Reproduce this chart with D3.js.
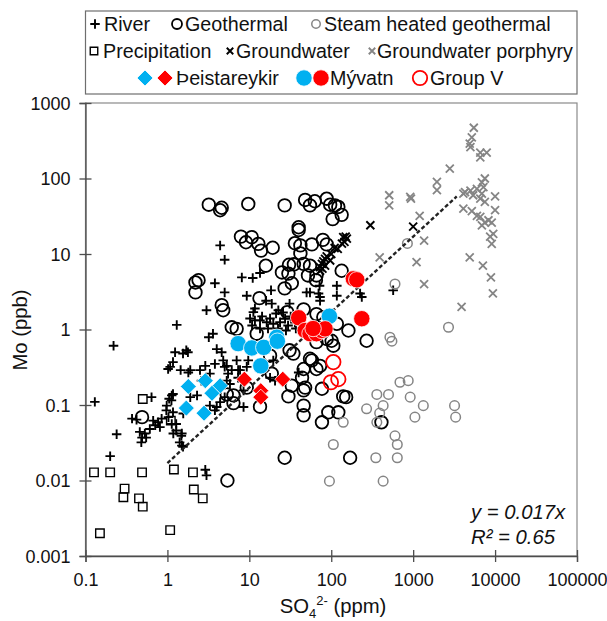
<!DOCTYPE html>
<html>
<head>
<meta charset="utf-8">
<script src="https://cdn.jsdelivr.net/npm/d3@7/dist/d3.min.js"></script>
<style>
  html, body { margin: 0; padding: 0; background: #fff; }
  svg { display: block; font-family: "Liberation Sans", Arial, sans-serif; }
</style>
</head>
<body>
<svg id="chart" width="607" height="621"></svg>
<script>
// Mo (ppb) against SO4 (ppm) for Icelandic waters, log–log.
// Each point is [SO4 ppm, Mo ppb].
const river = [
  [4.4,13],[5.0,8.4],[8.1,4.9],[11,4.8],[13.5,5.6],[3.8,4.1],[117,3.8],[18.4,3.3],[5.0,3.1],[9.3,2.8],
  [16,2.4],[11.2,1.7],[3.0,1.8],[18.8,2.2],[22.6,1.8],[31,2.2],[72,3.8],[73,2.7],[55,3.1],[117,2.8],
  [1.3,1.15],[0.22,0.61],[0.13,0.11],[4.0,0.55],[4.6,0.50],[1.7,0.53],[1.24,0.50],[1.08,0.32],[1.45,0.29],[1.9,0.29],
  [2.9,0.33],[3.8,0.35],[5.3,0.33],[7.0,0.39],[5.5,0.26],[7.3,0.29],[8.5,0.156],[5.8,0.19],[5.0,0.127],[4.4,0.109],
  [4.0,0.094],[2.3,0.134],[1.9,0.127],[1.13,0.134],[1.05,0.121],[0.64,0.127],[0.98,0.098],[0.85,0.066],[0.77,0.059],[0.71,0.054],
  [0.61,0.048],[0.53,0.042],[0.49,0.037],[0.42,0.064],[0.37,0.066],[0.46,0.044],[0.81,0.051],[1.03,0.069],[1.13,0.056],[1.18,0.042],
  [1.5,0.042],[1.5,0.029],[1.56,0.077],[3.3,0.098],[3.8,0.085],[0.24,0.041],[0.20,0.021],[2.9,0.0139],[3.0,0.0117],[40,0.27],
  [17.9,0.23],[20.6,0.21],[8.5,0.094],[3.6,0.88],[3.2,0.79],[11.7,1.32],[4.8,0.39],[5.0,0.32],[6.1,0.29],[7.7,0.29],
  [1.8,0.27],[2.5,0.29],[3.3,0.26],[2.6,0.21],[7.3,0.23],[5.3,0.21],[9.7,0.39],[9.3,0.32],[1.17,0.14],[0.67,0.062],
  [0.55,0.037],[0.48,0.032],[0.97,0.085],[1.17,0.080],[1.28,0.056],[1.28,0.046],[1.48,0.039],[1.41,0.032],[1.55,0.028],[11.7,1.9],
  [13.5,1.32],[16.3,1.25],[19.6,1.19],[23.7,1.25],[27.3,1.39],[50,3.1],[70,3.0],[73,2.4],[225,3.0],[570,3.3],
  [236,2.7],[19.6,0.39],[10.2,1.4],[14.3,1.49],[17.9,1.4],[21.2,1.63],[29.7,1.13],[32,1.49],[36,1.24],[13.5,1.03],
  [16.9,1.03],[22.4,1.03],[28,0.97],[37,1.03],[10.8,1.13],[25.8,1.68],[1.02,0.30],[1.17,0.37],[1.55,0.48],[1.78,0.50],
  [1.12,0.115]
];
const geothermal = [
  [3.2,45],[4.4,38],[4.6,41],[9.7,46],[27,44],[48,52],[55,44],[63,50],[88,54],[97,45],
  [111,44],[122,42],[134,33],[104,29],[40,22.6],[40,20.8],[7.9,17],[10.7,16.7],[9.1,14.3],[12.9,13.6],
  [13.9,11.1],[19.3,12.1],[36,13.9],[42,13],[58,13.4],[79,15.4],[88,13.4],[42,10.2],[15.9,7.0],[25,5.7],
  [30.5,7.2],[35,7.3],[46,7.4],[55,7.0],[52,5.2],[65,4.5],[33,4.1],[134,6.0],[2.2,4.2],[2.4,4.5],
  [2.2,3.1],[4.8,1.8],[4.6,2.1],[13.3,2.6],[27,3.5],[66,5.2],[30,5.5],[6.1,1.07],[7.0,1.02],[12.3,0.88],
  [17.9,0.45],[31,0.53],[34.5,0.48],[55,0.41],[73,0.33],[46,0.30],[18.8,0.26],[30,0.13],[46,0.156],[46,0.098],
  [46,0.073],[77,0.164],[77,0.059],[92,0.080],[122,0.080],[152,0.127],[33,0.18],[13.5,0.095],[6.4,0.106],[6.4,0.134],
  [5.3,0.138],[9.3,0.17],[0.49,0.069],[27,0.020],[5.4,0.010],[170,0.020],[162,0.97],[270,0.71],[117,1.19],[101,0.71],
  [66,0.68],[88,0.75],[106,0.61],[58,0.39],[66,0.30],[44,0.23],[48,0.17],[140,0.13],[80,1.46],[66,1.6],
  [29,1.7],[410,0.059],[46,1.85]
];
const steamHeated = [
  [600,4.0],[2700,1.07],[520,0.79],[550,0.70],[690,0.2],[870,0.21],[360,0.138],[500,0.138],[920,0.127],[1330,0.098],
  [430,0.098],[270,0.089],[390,0.078],[3200,0.098],[3300,0.069],[1050,0.069],[360,0.059],[140,0.059],[600,0.039],[640,0.030],
  [106,0.030],[350,0.020],[640,0.020],[95,0.0098],[430,0.0098],[850,13.8]
];
const precipitation = [
  [0.127,0.0128],[0.20,0.0128],[0.49,0.0128],[1.2,0.014],[2.05,0.0128],[0.30,0.0078],[0.29,0.006],[0.45,0.0058],
  [0.50,0.0045],[2.1,0.0076],[2.7,0.0058],[0.15,0.002],[1.08,0.0022],[0.50,0.12],[1.1,0.062]
];
const groundwater = [
  [300,24],[1000,23],[73,6.7],[77,7.4],[80,8],[84,8.6],[88,9.3],[100,10],[110,12],[120,11.7],
  [135,13.7],[145,14.5],[155,16],[150,17],[73,6.0],[78,6.4],[97,8.2],[84,7.0],[140,16.7]
];
const porphyry = [
  [5500,470],[5200,350],[4900,290],[5000,260],[6600,220],[7900,220],[6600,190],[2800,135],[1950,90],[1950,70],
  [510,60],[510,44],[920,57],[940,54],[7500,100],[6900,89],[7200,77],[6000,73],[5000,69],[4300,66],
  [4100,63],[5400,60],[6900,63],[10000,58],[6600,54],[7500,49],[4100,40],[5200,37],[6000,32],[6600,31],
  [10000,38],[7500,26],[8300,28],[9100,26],[6900,24],[9500,18.5],[8700,17],[9100,13.6],[1200,32],[1360,15],
  [390,9],[1100,7.8],[4900,9],[7100,7],[8900,4.9],[1360,4.0],[9400,3.0],[3900,2.0]
];
const theistareykirBlue = [[1.8,0.176],[2.9,0.21],[4.4,0.18],[3.5,0.143],[1.7,0.091],[2.8,0.078]];
const theistareykirRed = [[8.7,0.22],[25.6,0.22],[13.8,0.155],[13.8,0.127]];
const myvatnBlue = [[7.3,0.65],[10.7,0.57],[15,0.58],[21.6,0.79],[22,0.70],[13.8,0.33],[95,1.5]];
const myvatnRed = [[40,1.43],[48,0.97],[55,0.88],[66,0.88],[77,0.97],[84,1.02],[60,1.03],[236,1.39],[186,4.7],[205,4.55]];
const groupV = [[106,0.37],[99,0.2],[122,0.22]];

// Trend line y = 0.017x over the fitted range
const slope = 0.017;
const fitRange = [1, 3400];
const r2 = 0.65;

const xTicks = [0.1, 1, 10, 100, 1000, 10000, 100000];
const yTicks = [0.001, 0.01, 0.1, 1, 10, 100, 1000];

const svg = d3.select("#chart");
const W = 607, H = 621;
const plot = { left: 85.5, right: 577, top: 103, bottom: 556 };
const FONT_LEGEND = 19.7, FONT_TICK = 18, FONT_TITLE = 20.3;

const x = d3.scaleLog().domain([0.1, 100000]).range([plot.left, plot.right]);
const y = d3.scaleLog().domain([0.001, 1000]).range([plot.bottom, plot.top]);

svg.append("rect").attr("width", W).attr("height", H).attr("fill", "#fff");

// marker shapes
const plusType = { draw(ctx, size) { const r = Math.sqrt(size) / 2;
  ctx.moveTo(-r, 0); ctx.lineTo(r, 0); ctx.moveTo(0, -r); ctx.lineTo(0, r); } };
const timesType = { draw(ctx, size) { const r = Math.sqrt(size) / 2;
  ctx.moveTo(-r, -r); ctx.lineTo(r, r); ctx.moveTo(r, -r); ctx.lineTo(-r, r); } };
const diamondType = { draw(ctx, size) { const r = Math.sqrt(size) / 2;
  ctx.moveTo(0, -r); ctx.lineTo(r, 0); ctx.lineTo(0, r); ctx.lineTo(-r, 0); ctx.closePath(); } };
const squareType = { draw(ctx, size) { const r = Math.sqrt(size) / 2;
  ctx.rect(-r, -r, 2 * r, 2 * r); } };
const circleType = d3.symbolCircle;

const BLUE = "#00b0f0", RED = "#ff0000", GREY = "#858585";

const styles = {
  river:   { type: plusType,    size: 90,  fill: "none", stroke: "#000", sw: 1.9 },
  geo:     { type: circleType,  size: Math.PI * 6.3 * 6.3, fill: "none", stroke: "#000", sw: 1.8 },
  steam:   { type: circleType,  size: Math.PI * 4.8 * 4.8, fill: "none", stroke: GREY, sw: 1.5 },
  precip:  { type: squareType,  size: 72,  fill: "none", stroke: "#000", sw: 1.4 },
  ground:  { type: timesType,   size: 64,  fill: "none", stroke: "#000", sw: 1.9 },
  porph:   { type: timesType,   size: 64,  fill: "none", stroke: GREY, sw: 1.8 },
  thB:     { type: diamondType, size: 256, fill: BLUE, stroke: "#fff", sw: 0.8 },
  thR:     { type: diamondType, size: 256, fill: RED,  stroke: "#fff", sw: 0.8 },
  myB:     { type: circleType,  size: Math.PI * 8.2 * 8.2, fill: BLUE, stroke: "#fff", sw: 0.8 },
  myR:     { type: circleType,  size: Math.PI * 8.2 * 8.2, fill: RED,  stroke: "#fff", sw: 0.8 },
  grpV:    { type: circleType,  size: Math.PI * 7.2 * 7.2, fill: "none", stroke: RED, sw: 1.8 }
};

// plot frame
svg.append("rect")
  .attr("x", plot.left).attr("y", plot.top)
  .attr("width", plot.right - plot.left).attr("height", plot.bottom - plot.top)
  .attr("fill", "none").attr("stroke", "#8a8a8a").attr("stroke-width", 1.2);

// axes with ticks crossing the axis line
const xAxis = svg.append("g").attr("transform", `translate(0,${plot.bottom})`)
  .call(d3.axisBottom(x).tickValues(xTicks).tickFormat(d3.format("~f")).tickSize(6).tickPadding(9));
xAxis.selectAll(".tick line").attr("y1", -6).attr("y2", 6);
const yAxis = svg.append("g").attr("transform", `translate(${plot.left},0)`)
  .call(d3.axisLeft(y).tickValues(yTicks).tickFormat(d3.format("~f")).tickSize(6).tickPadding(9));
yAxis.selectAll(".tick line").attr("x1", -6).attr("x2", 6);
[xAxis, yAxis].forEach(g => {
  g.select(".domain").attr("stroke", "#4d4d4d").attr("stroke-width", 1.3);
  g.selectAll(".tick line").attr("stroke", "#4d4d4d").attr("stroke-width", 1.3);
  g.selectAll(".tick text").attr("font-size", FONT_TICK).attr("fill", "#111")
    .attr("font-family", "'Liberation Sans', Arial, sans-serif");
});
xAxis.selectAll(".tick text").attr("dy", "0.82em");
yAxis.selectAll(".tick text").attr("dy", "0.35em");

// scatter series
function drawSeries(data, st) {
  svg.append("g").selectAll("path").data(data).join("path")
    .attr("transform", d => `translate(${x(d[0])},${y(d[1])})`)
    .attr("d", d3.symbol().type(st.type).size(st.size))
    .attr("fill", st.fill).attr("stroke", st.stroke).attr("stroke-width", st.sw);
}
drawSeries(river, styles.river);
drawSeries(geothermal, styles.geo);
drawSeries(steamHeated, styles.steam);
drawSeries(precipitation, styles.precip);
drawSeries(groundwater, styles.ground);
drawSeries(porphyry, styles.porph);

// trend line
const fit = fitRange.map(v => [v, slope * v]);
svg.append("path")
  .attr("d", d3.line().x(d => x(d[0])).y(d => y(d[1]))(fit))
  .attr("fill", "none").attr("stroke", "#222").attr("stroke-width", 2.4)
  .attr("stroke-dasharray", "4,2.4");

drawSeries(theistareykirBlue, styles.thB);
drawSeries(theistareykirRed, styles.thR);
drawSeries(myvatnBlue, styles.myB);
drawSeries(myvatnRed, styles.myR);
drawSeries(groupV, styles.grpV);

// equation
const eq = svg.append("g").attr("font-size", 20.3).attr("font-style", "italic").attr("fill", "#111");
eq.append("text").attr("x", 471).attr("y", 519).text(`y = ${slope}x`);
eq.append("text").attr("x", 471).attr("y", 544).text(`R² = ${r2}`);

// axis titles
svg.append("text").attr("transform", "translate(27,330) rotate(-90)")
  .attr("text-anchor", "middle").attr("font-size", FONT_TITLE).attr("fill", "#111").text("Mo (ppb)");
const xt = svg.append("text").attr("x", 333).attr("y", 613)
  .attr("text-anchor", "middle").attr("font-size", FONT_TITLE).attr("fill", "#111");
xt.append("tspan").text("SO");
xt.append("tspan").attr("font-size", 13).attr("dy", 5).text("4");
xt.append("tspan").attr("font-size", 13).attr("dy", -13).text("2-");
xt.append("tspan").attr("dy", 8).text(" (ppm)");

// legend
svg.append("rect").attr("x", plot.left).attr("y", 11)
  .attr("width", plot.right - plot.left).attr("height", 83)
  .attr("fill", "#fff").attr("stroke", "#6e6e6e").attr("stroke-width", 1.2);

const legendItems = [
  { row: 0, marks: [{ x: 95,  st: styles.river }], label: "River", tx: 104 },
  { row: 0, marks: [{ x: 177, st: { ...styles.geo, size: Math.PI * 25 } }], label: "Geothermal", tx: 185 },
  { row: 0, marks: [{ x: 316, st: { ...styles.steam, size: Math.PI * 18 } }], label: "Steam heated geothermal", tx: 324 },
  { row: 1, marks: [{ x: 94,  st: { ...styles.precip, size: 56 } }], label: "Precipitation", tx: 103 },
  { row: 1, marks: [{ x: 230, st: { ...styles.ground, size: 42 } }], label: "Groundwater", tx: 236 },
  { row: 1, marks: [{ x: 372, st: { ...styles.porph, size: 42 } }], label: "Groundwater porphyry", tx: 377 },
  { row: 2, marks: [{ x: 145, st: styles.thB }, { x: 165, st: styles.thR }], label: "Þeistareykir", tx: 176 },
  { row: 2, marks: [{ x: 304, st: styles.myB }, { x: 321, st: styles.myR }], label: "Mývatn", tx: 330 },
  { row: 2, marks: [{ x: 420, st: styles.grpV }], label: "Group V", tx: 430 }
];
const rowY = [24, 51, 78];
const lg = svg.append("g");
legendItems.forEach(item => {
  const cy = rowY[item.row];
  item.marks.forEach(m => {
    lg.append("path").attr("transform", `translate(${m.x},${cy})`)
      .attr("d", d3.symbol().type(m.st.type).size(m.st.size))
      .attr("fill", m.st.fill).attr("stroke", m.st.stroke).attr("stroke-width", m.st.sw);
  });
  lg.append("text").attr("x", item.tx).attr("y", cy).attr("dy", "0.36em")
    .attr("font-size", FONT_LEGEND).attr("fill", "#111").text(item.label);
});
</script>
</body>
</html>
